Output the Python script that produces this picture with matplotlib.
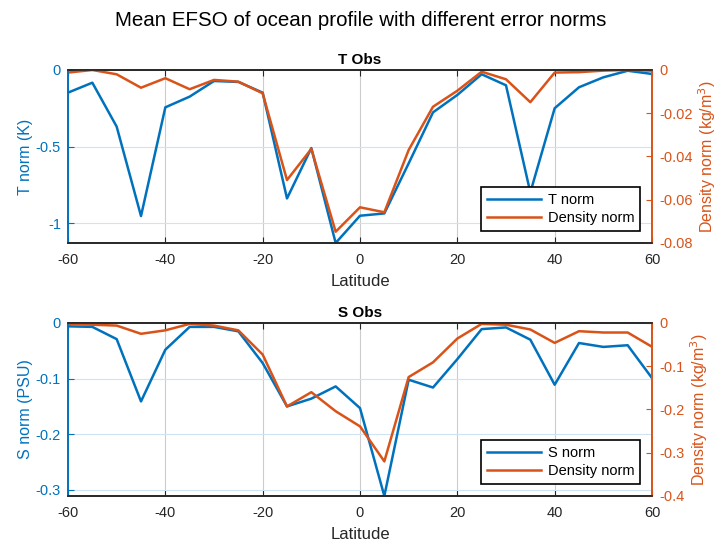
import matplotlib.pyplot as plt

plt.rcParams['font.family'] = ['Liberation Sans', 'DejaVu Sans']
plt.rcParams['axes.unicode_minus'] = False

# latitude bands
lat = [-60, -55, -50, -45, -40, -35, -30, -25, -20, -15, -10, -5, 0,
       5, 10, 15, 20, 25, 30, 35, 40, 45, 50, 55, 60]

# T obs
t_norm = [-0.148, -0.083, -0.37, -0.954, -0.244, -0.174, -0.072, -0.078, -0.148,
          -0.839, -0.51, -1.13, -0.952, -0.937, -0.61, -0.277, -0.163, -0.028,
          -0.10, -0.80, -0.25, -0.113, -0.048, -0.005, -0.026]
t_dens = [-0.0012, 0.0, -0.002, -0.0082, -0.0038, -0.0089, -0.0046, -0.0054, -0.0108,
          -0.0509, -0.0365, -0.0748, -0.0635, -0.0658, -0.037, -0.017, -0.0096, -0.0008,
          -0.0043, -0.0149, -0.0012, -0.001, -0.0003, 0.0, -0.0003]

# S obs
s_norm = [-0.006, -0.007, -0.029, -0.141, -0.048, -0.007, -0.007, -0.015, -0.072,
          -0.15, -0.136, -0.114, -0.153, -0.311, -0.102, -0.116, -0.065, -0.011,
          -0.008, -0.030, -0.111, -0.036, -0.043, -0.040, -0.099]
s_dens = [-0.0023, -0.004, -0.006, -0.025, -0.017, -0.002, -0.006, -0.017, -0.073,
          -0.193, -0.160, -0.204, -0.239, -0.32, -0.125, -0.091, -0.036, -0.002,
          -0.004, -0.015, -0.046, -0.019, -0.022, -0.022, -0.055]

BLUE = '#0072BD'
ORANGE = '#D95319'
DARK = '#262626'


def panel(rect, title, y1, y2, lab1, lab2, ylim1, yt1, ylim2, yt2, leg1):
    ax = fig.add_axes(rect)
    ax.set_xlim(-60, 60)
    ax.set_xticks([-60, -40, -20, 0, 20, 40, 60])
    ax.set_ylim(*ylim1)
    ax.set_yticks(yt1)
    ax.set_yticklabels([f'{v:g}' for v in yt1])
    ax.grid(axis='x', color='#cccccc', lw=0.8)
    ax.grid(axis='y', color='#cfe3f2', lw=0.8)
    ax.set_axisbelow(True)
    l1, = ax.plot(lat, y1, color=BLUE, lw=1.8, label=leg1)
    ax.set_ylabel(lab1, color=BLUE, fontsize=11.5, labelpad=2)
    ax.set_xlabel('Latitude', color=DARK, fontsize=12, labelpad=5)
    ax.set_title(title, fontsize=11, fontweight='bold', color='black', pad=4)
    ax.tick_params(axis='y', colors=BLUE, direction='in', labelsize=10.5, length=4,
                   pad=5)
    ax.tick_params(axis='x', colors=DARK, direction='in', labelsize=10.5, length=4,
                   top=True, pad=7)

    ax2 = ax.twinx()
    ax2.set_ylim(*ylim2)
    ax2.set_yticks(yt2)
    ax2.set_yticklabels([f'{v:g}' for v in yt2])
    l2, = ax2.plot(lat, y2, color=ORANGE, lw=1.8, label='Density norm')
    ax2.set_ylabel(lab2, color=ORANGE, fontsize=11.5, labelpad=3)
    ax2.tick_params(axis='y', colors=ORANGE, direction='in', labelsize=10.5, length=4,
                    pad=5)

    for a in (ax, ax2):
        a.spines['top'].set_color(DARK)
        a.spines['bottom'].set_color(DARK)
        a.spines['left'].set_color(BLUE)
        a.spines['right'].set_color(ORANGE)
        for s in a.spines.values():
            s.set_linewidth(1.2)

    leg = ax2.legend(handles=[l1, l2], loc='lower right', fontsize=10.5,
                     fancybox=False, framealpha=1, edgecolor='black',
                     handlelength=3.7, borderaxespad=0.8, borderpad=0.4,
                     labelspacing=0.3, handletextpad=0.5)
    leg.get_frame().set_linewidth(1.2)
    return ax, ax2


fig = plt.figure(figsize=(7.25, 5.48), dpi=100)
fig.suptitle('Mean EFSO of ocean profile with different error norms',
             fontsize=14.8, y=0.98, x=0.498)

panel([0.0938, 0.5566, 0.8055, 0.3157], 'T Obs', t_norm, t_dens,
      'T norm (K)', 'Density norm (kg/m$^3$)',
      (-1.13, 0), [-1, -0.5, 0], (-0.08, 0), [-0.08, -0.06, -0.04, -0.02, 0],
      'T norm')

panel([0.0938, 0.0949, 0.8055, 0.3157], 'S Obs', s_norm, s_dens,
      'S norm (PSU)', 'Density norm (kg/m$^3$)',
      (-0.311, 0), [-0.3, -0.2, -0.1, 0], (-0.4, 0), [-0.4, -0.3, -0.2, -0.1, 0],
      'S norm')

fig.savefig('out.png', dpi=100)
